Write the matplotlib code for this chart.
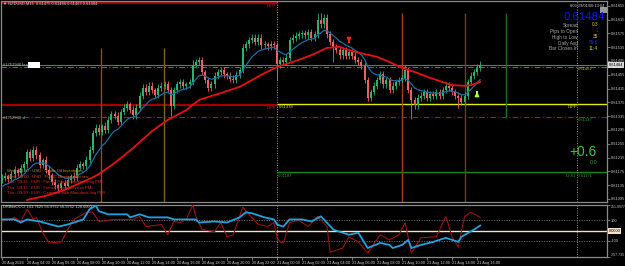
import matplotlib
matplotlib.use("Agg")
import matplotlib.pyplot as plt
from matplotlib.patches import Rectangle

W, H = 625, 266
plt.rcParams['font.family'] = ['Liberation Sans', 'DejaVu Sans']

# ---------------- data ----------------
first_open = 0.61150
closes = [
    0.61156, 0.61162, 0.61153, 0.61167, 0.61179, 0.61170, 0.61185, 0.61196, 0.61231, 0.61214,
    0.61237, 0.61222, 0.61194, 0.61208, 0.61179, 0.61164, 0.61144, 0.61135, 0.61127, 0.61141,
    0.61133, 0.61150, 0.61162, 0.61156, 0.61185, 0.61196, 0.61191, 0.61208, 0.61237, 0.61286,
    0.61301, 0.61289, 0.61307, 0.61295, 0.61324, 0.61341, 0.61336, 0.61318, 0.61347, 0.61359,
    0.61370, 0.61353, 0.61338, 0.61359, 0.61394, 0.61417, 0.61405, 0.61423, 0.61411, 0.61397,
    0.61417, 0.61423, 0.61428, 0.61411, 0.61365, 0.61411, 0.61428, 0.61434, 0.61423, 0.61428,
    0.61434, 0.61484, 0.61492, 0.61498, 0.61463, 0.61440, 0.61417, 0.61428, 0.61452, 0.61463,
    0.61469, 0.61457, 0.61452, 0.61443, 0.61440, 0.61455, 0.61469, 0.61533, 0.61544, 0.61556,
    0.61562, 0.61550, 0.61562, 0.61541, 0.61544, 0.61538, 0.61544, 0.61541, 0.61486, 0.61498,
    0.61492, 0.61504, 0.61556, 0.61562, 0.61568, 0.61573, 0.61576, 0.61570, 0.61579, 0.61562,
    0.61573, 0.61614, 0.61602, 0.61620, 0.61573, 0.61550, 0.61533, 0.61527, 0.61512, 0.61527,
    0.61510, 0.61521, 0.61510, 0.61498, 0.61492, 0.61481, 0.61440, 0.61388, 0.61405, 0.61423,
    0.61440, 0.61457, 0.61428, 0.61440, 0.61411, 0.61423, 0.61434, 0.61440, 0.61446, 0.61469,
    0.61411, 0.61382, 0.61367, 0.61388, 0.61394, 0.61405, 0.61388, 0.61399, 0.61394, 0.61405,
    0.61394, 0.61411, 0.61423, 0.61417, 0.61405, 0.61394, 0.61388, 0.61376, 0.61394, 0.61434,
    0.61452, 0.61463, 0.61475, 0.61484,
]
upper_wick_pips = [
    1, 1, 0.5, 1, 1, 0.5, 1, 1, 1, 1,
    1, 1, 1, 0.5, 1, 1, 0.5, 1, 0.5, 1,
    1, 1, 0.5, 1, 1, 1, 0.5, 1, 1, 1,
    1, 1, 0.5, 1, 1, 1, 1, 1, 1, 1,
    1, 0.5, 1, 1, 1, 1, 1, 1, 1, 0.5,
    1, 1, 1, 1, 1, 1, 1, 1, 1, 0.5,
    1, 1.5, 1, 1, 1, 0.5, 1, 1, 1, 1,
    1, 1, 0.5, 1, 1, 1, 1, 1, 1, 1,
    1, 1, 1, 1, 1, 0.5, 1, 1, 1, 1,
    1, 1, 1, 1, 1, 1, 1, 1, 1, 1,
    1, 2, 2, 1, 1, 1, 1, 1, 1, 1,
    1, 1, 1, 1, 1, 1, 1, 1, 1, 1,
    1, 1, 1, 1, 1, 1, 1, 1, 1, 1.5,
    1, 1, 1, 1, 1, 1, 1, 1, 1, 1,
    1, 1, 1, 1, 1, 1, 1, 1, 1, 1,
    1, 1, 1, 1,
]
lower_wick_pips = [
    1, 1, 1, 0.5, 1, 1, 1, 1, 1, 1,
    1, 1, 1, 1, 1, 1, 1, 1, 1.5, 1,
    1, 1, 1, 1, 1, 0.5, 1, 1, 1, 1,
    1, 1, 1, 1, 1, 1, 1, 1, 1, 1,
    1, 1, 1, 1, 1, 1, 1, 1, 1, 1,
    1, 1, 1, 1, 3, 1, 1, 1, 1, 1,
    1, 1, 1, 1, 1, 1, 1, 1, 1, 1,
    1, 1, 1, 1, 1, 1, 1, 1, 1, 1,
    1, 1, 1, 1, 1, 1, 1, 1, 4.5, 1,
    1, 1, 1, 1, 1, 1, 1, 1, 1, 1,
    1, 1, 1, 1, 1, 1, 4, 1, 1, 1,
    1, 1, 1, 1, 1, 1, 1, 1, 1, 1,
    1, 1, 1, 1, 1, 1, 1, 1, 1, 1,
    1, 5.5, 1, 1, 1, 1, 1, 1, 1, 1,
    1, 1, 1, 1, 1, 1, 3, 1, 1, 1,
    1, 1, 1, 1,
]

red_ma_bars = [8, 14, 19, 23, 28, 31, 36, 42, 48, 53, 59, 63, 70, 76, 83, 88, 93, 99,
               104, 108, 112, 116, 120, 124, 128, 133, 137, 141, 144, 148, 150, 153]
red_ma_vals = [0.61092, 0.61104, 0.61118, 0.61133, 0.61153, 0.61167, 0.61199, 0.61243,
               0.61292, 0.61324, 0.61353, 0.61382, 0.61402, 0.61420, 0.61455, 0.61478,
               0.61492, 0.61512, 0.61533, 0.61536, 0.61524, 0.61515, 0.61507, 0.61492,
               0.61475, 0.61460, 0.61446, 0.61434, 0.61425, 0.61423, 0.61425, 0.61434]
blue_ma_seed = 0.61125
blue_ma_period = 10

cci_slow_bars = [0, 4, 6, 8, 12, 18, 21, 26, 28, 30, 31, 34, 40, 41, 44, 47, 53, 55, 62, 63,
                 68, 72, 76, 78, 80, 84, 87, 88, 90, 92, 96, 99, 102, 103, 106, 109, 111, 114,
                 117, 121, 124, 125, 128, 130, 131, 134, 138, 142, 146, 147, 151, 153]
cci_slow_vals = [110, 110, 80, 110, 90, 40, 60, 110, 210, 245, 190, 160, 160, 130, 160, 130,
                 130, 110, 110, 80, 90, 80, 130, 180, 170, 130, 110, 60, 40, 110, 110, 90,
                 140, 110, 10, -20, -40, -20, -170, -120, -140, -170, -140, -90, -170, -140,
                 -110, -70, -110, -60, 10, 50]
cci_fast_bars = [0, 4, 6, 8, 10, 11, 13, 15, 19, 21, 23, 27, 29, 31, 36, 42, 44, 46, 51, 53,
                 55, 57, 59, 61, 62, 64, 68, 70, 72, 74, 76, 77, 79, 82, 85, 87, 88, 89, 90,
                 92, 95, 98, 101, 104, 105, 109, 111, 114, 117, 121, 124, 127, 129, 131, 134,
                 139, 142, 144, 146, 148, 150, 153]
cci_fast_vals = [90, 130, 90, 210, 110, 130, -20, -120, -110, 10, 110, 180, 180, 90, 110, 110,
                 140, 40, 60, -40, 90, 80, 110, 250, 140, 10, -10, 80, -60, -40, 140, 230, 160,
                 60, 40, 80, -70, -110, -120, 80, 100, 40, 140, 40, -210, -170, -60, -110, -220,
                 -40, -90, -40, 80, -220, -70, -60, 140, -60, -160, 140, 180, 130]

xtick_bars = [0, 8, 16, 24, 32, 40, 48, 56, 64, 72, 80, 88, 96, 104, 112, 120, 128, 136, 144, 152]
xtick_labels = ["20 Aug 2024", "20 Aug 04:00", "20 Aug 06:00", "20 Aug 08:00", "20 Aug 10:00",
                "20 Aug 12:00", "20 Aug 14:00", "20 Aug 16:00", "20 Aug 18:00", "20 Aug 20:00",
                "20 Aug 22:00", "21 Aug 00:00", "21 Aug 02:00", "21 Aug 04:00", "21 Aug 06:00",
                "21 Aug 08:00", "21 Aug 10:00", "21 Aug 12:00", "21 Aug 14:00", "21 Aug 16:00"]
price_ticks = [0.61655, 0.61615, 0.61575, 0.61535, 0.61495, 0.61455, 0.61415, 0.61375,
               0.61335, 0.61295, 0.61255, 0.61215, 0.61175, 0.61135, 0.61095]
cci_tick_vals = [251.0977, 100, 0, -100, -257.735]
cci_tick_labels = ["251.0977", "100", "0.0000", "-100", "-257.735"]

day_sep_bars = [88, 184]
event_line_bars = [31.7, 51.8, 128, 148.2, 161.3]
event_line_tops = [0.61533, 0.61533, 0.61634, 0.61634, 0.61634]
event_line_bottoms = [0.61086, 0.61086, 0.61086, 0.61086, 0.61330]
event_line_colors = ['#9A4418', '#7E6418', '#A8401A', '#5E4A1C', '#1F6E1F']

bid_price = 0.61484
order_price = 0.61478
sl_price = 0.61333
prev_r1 = 0.61663
prev_pp = 0.61366
today_pp = 0.61370
today_s1 = 0.61173
sell_arrow = (111, 0.61559, 0.61541)
buy_arrow = (152, 0.61396, 0.61414)

events = ["Wed : 18:30 : USD : Crude Oil Inventories",
          "Wed : 20:00 : USD : FOMC Meeting Minutes",
          "Thu : 09:15 : EUR : French Flash Manufacturing PMI",
          "Thu : 09:15 : EUR : French Flash Services PMI",
          "Thu : 09:30 : EUR : German Flash Manufacturing PMI"]
event_colors = ['#C89A30', '#E0501A', '#E02828', '#E02828', '#E02828']

info_labels = ["Spread", "Pips to Open", "High to Low", "Daily Avg", "Bar Closes In"]
info_values = ["0.3", "1", "35", "59.6", "11:4"]
info_colors = ['#E8C800', '#2030FF', '#E8C800', '#2030FF', '#E8C800']

# ---------------- figure ----------------
fig = plt.figure(figsize=(W / 100, H / 100), dpi=100, facecolor='black')

def fx(px):
    return px / W

def fy(py):
    return 1 - py / H

XL = (-0.35, 193.6)
ax = fig.add_axes([fx(1), fy(202), fx(607) - fx(1), fy(1) - fy(202)], facecolor='black')
ax2 = fig.add_axes([fx(1), fy(257), fx(607) - fx(1), fy(205) - fy(257)], facecolor='black')
for a in (ax, ax2):
    a.set_xlim(*XL)
    for s in a.spines.values():
        s.set_color('#8A8A8A')
        s.set_linewidth(0.9)
ax.set_ylim(0.61086, 0.61669)
ax2.set_ylim(-257.735, 251.0977)

# horizontal levels
ax.hlines(prev_r1, XL[0], 88, color='#A00000', lw=1.6, zorder=1)
ax.hlines(prev_pp, XL[0], 88, color='#A00000', lw=1.6, zorder=1)
ax.hlines(today_pp, 88, XL[1], color='#E8E800', lw=1.0, zorder=1)
ax.hlines(today_s1, 88, XL[1], color='#108A10', lw=1.0, zorder=1)
ax.axhline(bid_price, color='#6E6E6E', lw=0.8, zorder=1)
ax.axhline(order_price, color='#2E8B2E', lw=0.8, ls=(0, (5, 2, 1, 2)), zorder=1)
ax.axhline(sl_price, color='#B01818', lw=0.8, ls=(0, (5, 2, 1, 2)), zorder=1)

# vertical lines
for b, t, bt, c in zip(event_line_bars, event_line_tops, event_line_bottoms, event_line_colors):
    ax.vlines(b, bt, t, color=c, lw=1.0, zorder=1)
for b in day_sep_bars:
    ax.axvline(b, color='#9A9A9A', lw=0.7, ls=(0, (1, 1.5)), zorder=1)
    ax2.axvline(b, color='#9A9A9A', lw=0.7, ls=(0, (1, 1.5)), zorder=1)

# candles
bull, bear = '#2DB36E', '#F0605E'
prev = first_open
for i, c in enumerate(closes):
    o = prev
    hi = max(o, c) + upper_wick_pips[i] * 0.0001
    lo = min(o, c) - lower_wick_pips[i] * 0.0001
    col = bull if c >= o else bear
    ax.vlines(i, lo, hi, color=col, lw=0.6, zorder=3)
    h = c - o
    if abs(h) < 0.000025:
        h = 0.000025 if h >= 0 else -0.000025
    ax.bar(i, h, bottom=o, width=0.62, color=col, linewidth=0, zorder=3)
    prev = c

# moving averages
ema = []
val = blue_ma_seed
k = 2 / (blue_ma_period + 1)
for c in closes:
    val = val + k * (c - val)
    ema.append(val)
ax.plot(range(len(closes)), ema, color='#1C6EA4', lw=0.9, zorder=4)
ax.plot(red_ma_bars, red_ma_vals, color='#E81010', lw=1.3, zorder=4)

# arrows
ax.annotate('', xy=(sell_arrow[0], sell_arrow[2]), xytext=(sell_arrow[0], sell_arrow[1]),
            arrowprops=dict(arrowstyle='-|>', color='#FF2020', lw=1.3, mutation_scale=5), zorder=6)
ax.annotate('', xy=(buy_arrow[0], buy_arrow[2]), xytext=(buy_arrow[0], buy_arrow[1]),
            arrowprops=dict(arrowstyle='-|>', color='#B0FF30', lw=1.3, mutation_scale=5), zorder=6)

# indicator
ax2.axhline(0, color='#F4E2C8', lw=1.0, zorder=1)
ax2.axhline(100, color='#707070', lw=0.6, ls=(0, (1.5, 1.5)), zorder=1)
ax2.axhline(-100, color='#707070', lw=0.6, ls=(0, (1.5, 1.5)), zorder=1)
ax2.plot(cci_fast_bars, cci_fast_vals, color='#9E1212', lw=0.8, zorder=3)
ax2.plot(cci_slow_bars, cci_slow_vals, color='#1FA3E0', lw=1.3, zorder=4)

# axes ticks
tick_color = '#C8C8C8'
TS = 2.9
ax.yaxis.tick_right()
ax.set_yticks(price_ticks)
ax.set_yticklabels([f"{p:.5f}" for p in price_ticks])
ax.tick_params(axis='y', colors='#8A8A8A', labelcolor=tick_color, labelsize=TS, length=2, width=0.6, pad=1)
ax.set_xticks([])
ax2.yaxis.tick_right()
ax2.set_yticks(cci_tick_vals)
ax2.set_yticklabels(["" if v == 0 else s for v, s in zip(cci_tick_vals, cci_tick_labels)])
ax2.tick_params(axis='y', colors='#8A8A8A', labelcolor=tick_color, labelsize=TS, length=2, width=0.6, pad=0.8)
for lab in ax2.get_yticklabels():
    if lab.get_text() == cci_tick_labels[0]:
        lab.set_verticalalignment('top')
        lab.set_fontsize(2.5)
    elif lab.get_text() == cci_tick_labels[-1]:
        lab.set_verticalalignment('bottom')
        lab.set_fontsize(2.5)
ax2.set_xticks(xtick_bars)
ax2.set_xticklabels(xtick_labels)
ax2.tick_params(axis='x', colors='#8A8A8A', labelcolor=tick_color, labelsize=2.8, length=2, width=0.6, pad=1)
for lab in ax2.get_xticklabels():
    lab.set_horizontalalignment('left')

# price label boxes on the axis
fig.text(fx(609), fy(65), f"{bid_price:.5f}", fontsize=TS, color='black', va='center', ha='left',
         bbox=dict(boxstyle='square,pad=0.15', fc='#D8D8D8', ec='none'))
fig.text(fx(609), fy(231), cci_tick_labels[2], fontsize=TS, color='black', va='center', ha='left',
         bbox=dict(boxstyle='square,pad=0.15', fc='#F4E2C8', ec='none'))

# header
small = 3.0
fig.text(fx(3), fy(4), "\u25BC NZDUSD,M15  0.61475 0.61486 0.61463 0.61484", fontsize=2.9,
         color='#D0D0D0', va='center', ha='left')
fig.text(fx(3), fy(207), "DRBibiOCCI 141.7625 56.9752 56.9752 120.0000", fontsize=2.9,
         color='#D0D0D0', va='center', ha='left')

# line labels
fig.text(fx(3), fy(65), "#1752946 buy", fontsize=small, color='#B0B0B0', va='center', ha='left')
fig.patches.append(Rectangle((fx(28), fy(68)), fx(12), fy(62) - fy(68), transform=fig.transFigure,
                             fc='white', ec='none'))
fig.text(fx(3), fy(118), "#1752946 sl", fontsize=small, color='#B0B0B0', va='center', ha='left')
fig.text(fx(267), fy(6), "D:R1", fontsize=small, color='#C02020', va='center', ha='left')
fig.text(fx(267), fy(108), "D:PP", fontsize=small, color='#C02020', va='center', ha='left')
fig.text(fx(279), fy(107), "0.61378", fontsize=small, color='#E8E800', va='center', ha='left')
fig.text(fx(568), fy(107), "D:PP", fontsize=small, color='#E8E800', va='center', ha='left')
fig.text(fx(578), fy(69), "0.61462", fontsize=small, color='#B8B820', va='center', ha='left')
fig.text(fx(578), fy(120), "0.61337", fontsize=small, color='#20A020', va='center', ha='left')
fig.text(fx(278), fy(176), "0.61187", fontsize=small, color='#20A020', va='center', ha='left')
fig.text(fx(566), fy(176), "D:S1  0.61171", fontsize=small, color='#20A020', va='center', ha='left')

# event list
for j, (t, c) in enumerate(zip(events, event_colors)):
    fig.text(fx(7), fy(171 + 5.6 * j), t, fontsize=small, color=c, va='center', ha='left')

# info panel
fig.text(fx(605), fy(6), "6:03:29/01/00:13:04", fontsize=2.9, color='#C8C8C8', va='center', ha='right')
fig.text(fx(564), fy(17), f"{bid_price:.5f}", fontsize=8.2, color='#0A14FF', va='center', ha='left')
fig.patches.append(Rectangle((fx(600), fy(13)), fx(7), fy(7) - fy(13), transform=fig.transFigure,
                             fc='#9A9A9A', ec='none'))
for j, (lab, v, c) in enumerate(zip(info_labels, info_values, info_colors)):
    yy = 25 + 6 * j
    fig.text(fx(578), fy(yy), lab, fontsize=3.4, color='#A8A8A8', va='center', ha='right')
    fig.text(fx(598), fy(yy), v, fontsize=3.4, color=c, va='center', ha='right')
fig.text(fx(569), fy(152), "+0.6", fontsize=10, color='#3CC83C', va='center', ha='left')
fig.text(fx(590), fy(163), "0.0", fontsize=4, color='#2E9E2E', va='center', ha='left')

fig.savefig("out.png", dpi=100, facecolor='black')
